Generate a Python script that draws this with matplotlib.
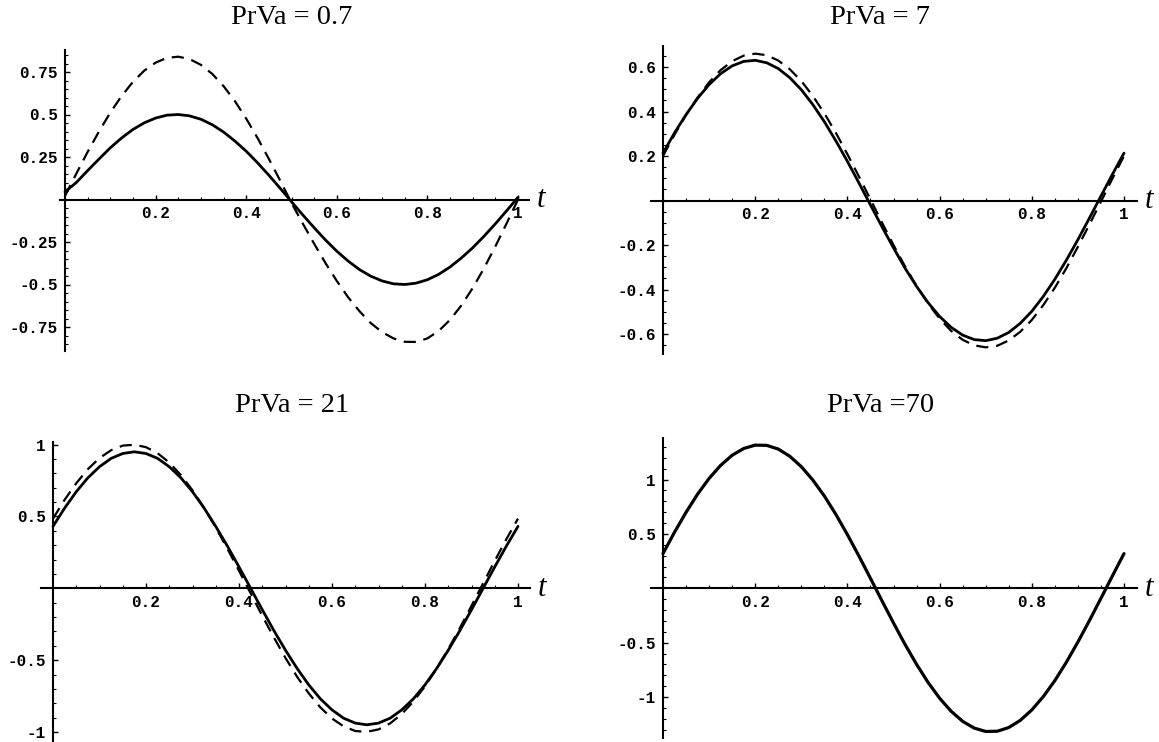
import numpy as np
import matplotlib
matplotlib.use("Agg")
import matplotlib.pyplot as plt
from matplotlib.ticker import MultipleLocator

# Sample times (one period, step 0.025)
t = np.linspace(0.0, 1.0, 41)

# PrVa = 0.7
prva07_solid = [0.045, 0.100, 0.170, 0.238, 0.304, 0.362, 0.412, 0.451, 0.479, 0.496,
                0.500, 0.492, 0.472, 0.440, 0.397, 0.344, 0.284, 0.216, 0.143, 0.066,
                -0.013, -0.091, -0.166, -0.238, -0.304, -0.362, -0.412, -0.451, -0.479, -0.496,
                -0.500, -0.492, -0.472, -0.440, -0.397, -0.344, -0.284, -0.216, -0.143, -0.066,
                0.013]
prva07_dashed = [0.021, 0.152, 0.280, 0.400, 0.511, 0.609, 0.692, 0.758, 0.805, 0.833,
                 0.840, 0.826, 0.792, 0.739, 0.667, 0.579, 0.476, 0.362, 0.239, 0.111,
                 -0.020, -0.142, -0.260, -0.374, -0.479, -0.575, -0.657, -0.727, -0.780, -0.817,
                 -0.837, -0.838, -0.817, -0.773, -0.708, -0.623, -0.521, -0.404, -0.276, -0.140,
                 0.000]

# PrVa = 7
prva7_solid = [0.213, 0.304, 0.386, 0.459, 0.521, 0.570, 0.605, 0.625, 0.630, 0.619,
               0.593, 0.552, 0.498, 0.431, 0.354, 0.268, 0.176, 0.079, -0.020, -0.118,
               -0.213, -0.304, -0.386, -0.459, -0.521, -0.570, -0.605, -0.625, -0.630, -0.619,
               -0.593, -0.552, -0.498, -0.431, -0.354, -0.268, -0.176, -0.079, 0.020, 0.118,
               0.213]
prva7_dashed = [0.200, 0.296, 0.384, 0.463, 0.531, 0.586, 0.626, 0.651, 0.660, 0.653,
                0.629, 0.590, 0.537, 0.470, 0.392, 0.304, 0.208, 0.108, 0.005, -0.099,
                -0.200, -0.296, -0.384, -0.463, -0.531, -0.586, -0.626, -0.651, -0.660, -0.653,
                -0.629, -0.590, -0.537, -0.470, -0.392, -0.304, -0.208, -0.108, -0.005, 0.099,
                0.200]

# PrVa = 21
prva21_solid = [0.431, 0.558, 0.672, 0.769, 0.846, 0.904, 0.938, 0.950, 0.938, 0.904,
                0.846, 0.769, 0.672, 0.558, 0.431, 0.294, 0.149, 0.000, -0.149, -0.294,
                -0.431, -0.558, -0.672, -0.769, -0.846, -0.904, -0.938, -0.950, -0.938, -0.904,
                -0.846, -0.769, -0.672, -0.558, -0.431, -0.294, -0.149, 0.000, 0.149, 0.294,
                0.431]
prva21_dashed = [0.485, 0.616, 0.731, 0.829, 0.906, 0.961, 0.993, 0.999, 0.982, 0.940,
                 0.875, 0.788, 0.682, 0.559, 0.423, 0.276, 0.122, -0.035, -0.191, -0.342,
                 -0.485, -0.616, -0.731, -0.829, -0.906, -0.961, -0.993, -0.999, -0.982, -0.940,
                 -0.875, -0.788, -0.682, -0.559, -0.423, -0.276, -0.122, 0.035, 0.191, 0.342,
                 0.485]

# PrVa = 70
prva70_solid = [0.319, 0.516, 0.699, 0.866, 1.011, 1.131, 1.224, 1.286, 1.317, 1.315,
                1.281, 1.215, 1.119, 0.996, 0.849, 0.680, 0.494, 0.297, 0.092, -0.115,
                -0.319, -0.516, -0.699, -0.866, -1.011, -1.131, -1.224, -1.286, -1.317, -1.315,
                -1.281, -1.215, -1.119, -0.996, -0.849, -0.680, -0.494, -0.297, -0.092, 0.115,
                0.319]

titles = ["PrVa = 0.7", "PrVa = 7", "PrVa = 21", "PrVa =70"]
x_ticks = [0.2, 0.4, 0.6, 0.8, 1.0]
x_tick_labels = ["0.2", "0.4", "0.6", "0.8", "1"]
y_ticks_07 = [-0.75, -0.5, -0.25, 0.25, 0.5, 0.75]
y_labels_07 = ["-0.75", "-0.5", "-0.25", "0.25", "0.5", "0.75"]
y_ticks_7 = [-0.6, -0.4, -0.2, 0.2, 0.4, 0.6]
y_labels_7 = ["-0.6", "-0.4", "-0.2", "0.2", "0.4", "0.6"]
y_ticks_21 = [-1.0, -0.5, 0.5, 1.0]
y_labels_21 = ["-1", "-0.5", "0.5", "1"]
y_ticks_70 = [-1.0, -0.5, 0.5, 1.0]
y_labels_70 = ["-1", "-0.5", "0.5", "1"]

W, H = 1159, 742
fig = plt.figure(figsize=(W / 100, H / 100), dpi=100)
fig.patch.set_facecolor("white")

TICK_FONT = dict(family="Liberation Mono", size=11.5, weight="bold")
TITLE_FONT = dict(family="Liberation Serif", size=20.5)


def add_panel(x0, px_x, y0, px_y, xlim, ylim):
    """Place an axes so that t=0 sits at pixel x0 and y=0 at pixel y0."""
    left = x0 + xlim[0] * px_x
    right = x0 + xlim[1] * px_x
    top = y0 - ylim[1] * px_y
    bottom = y0 - ylim[0] * px_y
    ax = fig.add_axes([left / W, 1 - bottom / H, (right - left) / W, (bottom - top) / H])
    ax.set_xlim(*xlim)
    ax.set_ylim(*ylim)
    ax.set_facecolor("none")
    for side in ("top", "right"):
        ax.spines[side].set_visible(False)
    ax.spines["left"].set_position(("data", 0))
    ax.spines["bottom"].set_position(("data", 0))
    for side in ("left", "bottom"):
        ax.spines[side].set_linewidth(1.5)
        ax.spines[side].set_color("black")
    return ax


def style_ticks(ax, yt, yl, y_minor):
    ax.set_xticks(x_ticks)
    ax.set_xticklabels(x_tick_labels, fontdict=TICK_FONT)
    ax.set_yticks(yt)
    ax.set_yticklabels(yl, fontdict=TICK_FONT)
    ax.xaxis.set_minor_locator(MultipleLocator(0.05))
    ax.yaxis.set_minor_locator(MultipleLocator(y_minor))
    ax.tick_params(which="major", direction="in", length=3.5, width=1.0, color="black", pad=5)
    ax.tick_params(which="minor", direction="in", length=2.0, width=0.8, color="black")


def t_label(ax):
    ax.annotate("t", xy=(1.0, 0.0), xycoords=("axes fraction", "data"),
                xytext=(12, 0), textcoords="offset pixels",
                ha="center", va="center", fontsize=22,
                family="Liberation Serif", style="italic")


solid_kw = dict(color="black", lw=2.0, solid_capstyle="round")
dash_kw = dict(color="black", lw=1.6, linestyle=(0, (5.5, 3.5)))

# PrVa = 0.7
ax1 = add_panel(65, 453, 199.5, 170, (-0.012, 1.025), (-0.89, 0.88))
ax1.plot(t, prva07_dashed, **dash_kw)
ax1.plot(t, prva07_solid, **solid_kw)
style_ticks(ax1, y_ticks_07, y_labels_07, 0.05)
t_label(ax1)

# PrVa = 7
ax2 = add_panel(663, 461, 200.5, 222.5, (-0.026, 1.028), (-0.692, 0.695))
ax2.plot(t, prva7_dashed, **dash_kw)
ax2.plot(t, prva7_solid, **solid_kw)
style_ticks(ax2, y_ticks_7, y_labels_7, 0.05)
t_label(ax2)

# PrVa = 21
ax3 = add_panel(53, 465, 588.3, 143.7, (-0.025, 1.026), (-1.07, 1.02))
ax3.plot(t, prva21_dashed, **dash_kw)
ax3.plot(t, prva21_solid, **solid_kw)
style_ticks(ax3, y_ticks_21, y_labels_21, 0.1)
t_label(ax3)

# PrVa = 70
ax4 = add_panel(663, 461, 588.3, 108.7, (-0.026, 1.028), (-1.38, 1.38))
ax4.plot(t, prva70_solid, color="black", lw=2.3, solid_capstyle="round")
style_ticks(ax4, y_ticks_70, y_labels_70, 0.1)
t_label(ax4)

# Panel titles
title_pos = [(292, 18), (880, 18), (292, 405), (881, 405)]
for (px, py), txt in zip(title_pos, titles):
    fig.text(px / W, 1 - py / H, txt, ha="center", va="center", **TITLE_FONT)

fig.savefig("out.png", dpi=100, facecolor="white")
